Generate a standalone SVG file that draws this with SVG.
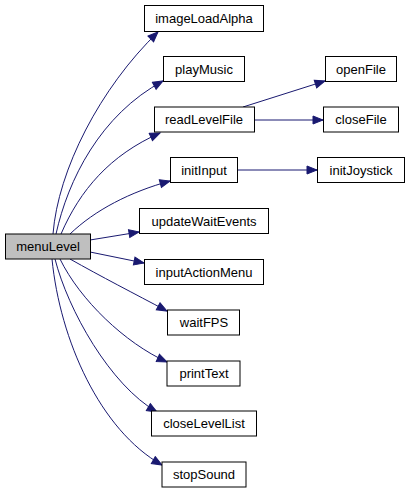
<svg xmlns="http://www.w3.org/2000/svg" width="411" height="493" viewBox="0 0 411 493">
<style>
.n rect{fill:#ffffff;stroke:#000000;stroke-width:1}
.n text{font-family:"Liberation Sans",Arial,sans-serif;font-size:13px;fill:#000000;text-anchor:middle}
#menuLevel rect{fill:#bfbfbf}
.e path{fill:none;stroke:#191970;stroke-width:1;marker-end:url(#ah)}
</style>
<defs>
<marker id="ah" markerUnits="userSpaceOnUse" markerWidth="13" markerHeight="11" refX="11" refY="5" orient="auto">
<path d="M1,1 L11,5 L1,9 z" fill="#191970" stroke="#191970" stroke-width="1"/>
</marker>
</defs>
<rect width="411" height="493" fill="#ffffff"/>
<g id="edges" class="e">
<path d="M53,234 C58,170 100,88 158,32"/>
<path d="M56,234 C68,180 100,115 163,81"/>
<path d="M61,234 C80,190 110,155 160,133"/>
<path d="M70,234 C95,210 130,192 170,181"/>
<path d="M90,240 L139,232"/>
<path d="M90,252 L144,263"/>
<path d="M70,259 C100,276 135,294 167,311"/>
<path d="M60,259 C80,300 125,343 167,362"/>
<path d="M55,259 C68,310 110,385 157,412"/>
<path d="M52,259 C60,340 100,430 162,465"/>
<path d="M243,107 L325,81"/>
<path d="M254,120 L323,120"/>
<path d="M238,170 L317,170"/>
</g>
<g id="menuLevel" class="n"><rect x="5.5" y="234" width="85" height="25"/><text x="48" y="251">menuLevel</text></g>
<g id="imageLoadAlpha" class="n"><rect x="144.5" y="5.5" width="119" height="26"/><text x="204" y="23">imageLoadAlpha</text></g>
<g id="playMusic" class="n"><rect x="163.5" y="56.5" width="81" height="25"/><text x="204" y="74">playMusic</text></g>
<g id="readLevelFile" class="n"><rect x="154.5" y="107" width="100" height="25"/><text x="204" y="124">readLevelFile</text></g>
<g id="initInput" class="n"><rect x="170.5" y="157.5" width="67" height="25"/><text x="204" y="175">initInput</text></g>
<g id="updateWaitEvents" class="n"><rect x="139.5" y="208.5" width="129" height="25"/><text x="204" y="226">updateWaitEvents</text></g>
<g id="inputActionMenu" class="n"><rect x="144.5" y="259.5" width="119" height="25"/><text x="204" y="277">inputActionMenu</text></g>
<g id="waitFPS" class="n"><rect x="167.5" y="310" width="72" height="25"/><text x="204" y="327">waitFPS</text></g>
<g id="printText" class="n"><rect x="167" y="361" width="73" height="25"/><text x="204" y="378">printText</text></g>
<g id="closeLevelList" class="n"><rect x="151.5" y="411" width="105" height="25"/><text x="204" y="428">closeLevelList</text></g>
<g id="stopSound" class="n"><rect x="162" y="462" width="84" height="25"/><text x="204" y="479">stopSound</text></g>
<g id="openFile" class="n"><rect x="325.5" y="56.5" width="71" height="25"/><text x="361" y="74">openFile</text></g>
<g id="closeFile" class="n"><rect x="323.5" y="107" width="75" height="25"/><text x="361" y="124">closeFile</text></g>
<g id="initJoystick" class="n"><rect x="317.5" y="157.5" width="87" height="25"/><text x="361" y="175">initJoystick</text></g>
</svg>
